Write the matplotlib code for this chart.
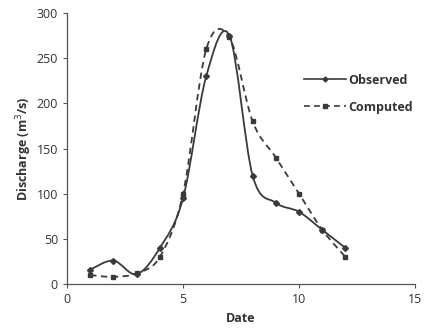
import matplotlib
matplotlib.use("Agg")
import matplotlib.pyplot as plt
from matplotlib.path import Path
from matplotlib.patches import PathPatch
from matplotlib.lines import Line2D
import numpy as np

plt.rcParams["font.family"] = ["Open Sans", "DejaVu Sans"]

dates = [1, 2, 3, 4, 5, 6, 7, 8, 9, 10, 11, 12]
observed = [16, 26, 11, 40, 95, 230, 275, 120, 90, 80, 60, 40]
computed = [10, 8, 12, 30, 100, 260, 273, 180, 140, 100, 60, 30]

COLOR = "#3a3a3a"


def smooth_path(x, y, tension=1 / 6):
    """Excel-style smoothed line: cubic Bezier segments through the points."""
    x = np.asarray(x, float)
    y = np.asarray(y, float)
    n = len(x)
    verts = [(x[0], y[0])]
    codes = [Path.MOVETO]
    for i in range(n - 1):
        p0 = (x[max(i - 1, 0)], y[max(i - 1, 0)])
        p1 = (x[i], y[i])
        p2 = (x[i + 1], y[i + 1])
        p3 = (x[min(i + 2, n - 1)], y[min(i + 2, n - 1)])
        c1 = (p1[0] + (p2[0] - p0[0]) * tension, p1[1] + (p2[1] - p0[1]) * tension)
        c2 = (p2[0] - (p3[0] - p1[0]) * tension, p2[1] - (p3[1] - p1[1]) * tension)
        verts += [c1, c2, p2]
        codes += [Path.CURVE4] * 3
    return Path(verts, codes)


fig = plt.figure(figsize=(4.24, 3.35), dpi=100)
ax = fig.add_axes([0.158, 0.152, 0.821, 0.809])

ax.add_patch(PathPatch(smooth_path(dates, observed), fill=False,
                       edgecolor=COLOR, linewidth=1.3))
ax.add_patch(PathPatch(smooth_path(dates, computed), fill=False,
                       edgecolor=COLOR, linewidth=1.3, linestyle=(0, (3.5, 2.5))))
ax.plot(dates, observed, linestyle="none", marker="D", markersize=3, color=COLOR)
ax.plot(dates, computed, linestyle="none", marker="s", markersize=3.5, color=COLOR)

ax.set_xlim(0, 15)
ax.set_ylim(0, 300)
ax.set_xticks([0, 5, 10, 15])
ax.set_yticks(range(0, 301, 50))
for s in ("top", "right"):
    ax.spines[s].set_visible(False)
for s in ("left", "bottom"):
    ax.spines[s].set_color("#555555")
    ax.spines[s].set_linewidth(0.9)
ax.tick_params(colors="#555555", labelcolor="#333333", labelsize=9, length=3)

ax.set_xlabel("Date", fontsize=9, fontweight="bold", color="#333333", labelpad=4)
ax.set_ylabel("Discharge (m$^3$/s)", fontsize=9, fontweight="bold", color="#333333", labelpad=2)

handles = [
    Line2D([], [], color=COLOR, linewidth=1.2, marker="D", markersize=2.5),
    Line2D([], [], color=COLOR, linewidth=1.2, linestyle=(0, (3.5, 2.5)), marker="s", markersize=3),
]
leg = ax.legend(handles, ["Observed", "Computed"], loc="upper left",
                bbox_to_anchor=(0.645, 0.82), frameon=False, handlelength=3.0,
                handletextpad=0.2, labelspacing=1.0)
for t in leg.get_texts():
    t.set_fontweight("bold")
    t.set_fontsize(9)
    t.set_color("#333333")

fig.savefig("out.png", dpi=100)
